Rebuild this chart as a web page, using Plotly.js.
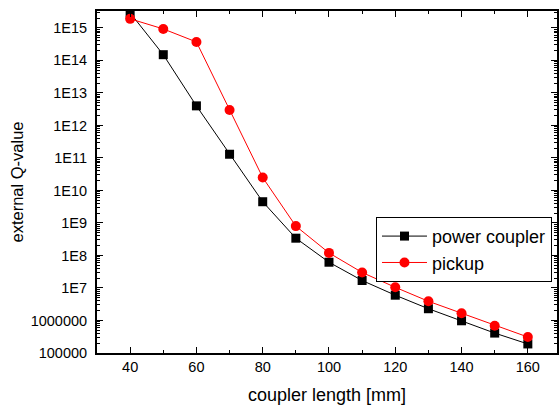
<!DOCTYPE html>
<html>
<head>
<meta charset="utf-8">
<script src="https://cdn.plot.ly/plotly-3.0.1.min.js"></script>
<style>html,body{margin:0;padding:0;background:#fff}#chart{width:559px;height:405px}</style>
</head>
<body>
<div id="chart"></div>
<script>
const couplerLength = [40, 50, 60, 70, 80, 90, 100, 110, 120, 130, 140, 150, 160];
const powerCoupler = [2.9e15, 1.5e14, 4.0e12, 1.3e11, 4.5e9, 3.4e8, 6.2e7, 1.7e7, 6.0e6, 2.3e6, 9.8e5, 4.1e5, 1.9e5];
const pickup = [1.9e15, 9.3e14, 3.7e14, 3.0e12, 2.5e10, 8.0e8, 1.2e8, 3.0e7, 1.05e7, 3.9e6, 1.66e6, 6.9e5, 3.1e5];
const yTickVals = [1e5, 1e6, 1e7, 1e8, 1e9, 1e10, 1e11, 1e12, 1e13, 1e14, 1e15];
const yTickText = ["100000", "1000000", "1E7", "1E8", "1E9", "1E10", "1E11", "1E12", "1E13", "1E14", "1E15"];
const xTickVals = [40, 60, 80, 100, 120, 140, 160];

const font = {family: "Liberation Sans, Arial, sans-serif", color: "#000"};

const traces = [
  {x: couplerLength, y: powerCoupler, name: "power coupler", type: "scatter", mode: "lines+markers",
   line: {color: "#000", width: 1}, marker: {symbol: "square", size: 9, color: "#000"}, cliponaxis: true},
  {x: couplerLength, y: pickup, name: "pickup", type: "scatter", mode: "lines+markers",
   line: {color: "#ff0000", width: 1}, marker: {symbol: "circle", size: 10, color: "#ff0000"}, cliponaxis: true}
];

const layout = {
  width: 559, height: 405,
  margin: {l: 97, r: 2, t: 11, b: 52},
  paper_bgcolor: "#fff", plot_bgcolor: "#fff",
  font: Object.assign({size: 14.5}, font),
  showlegend: true,
  legend: {x: 0.6065, y: 0.398, xanchor: "left", yanchor: "top", bordercolor: "#000", borderwidth: 1,
           bgcolor: "#fff", font: Object.assign({size: 18}, font), tracegroupgap: 0, itemwidth: 45},
  xaxis: {
    range: [30, 168.8], tickvals: xTickVals, ticks: "inside", ticklen: 6, tickwidth: 1, tickcolor: "#000",
    showline: true, linecolor: "#000", linewidth: 2, mirror: "ticks", showgrid: false, zeroline: false,
    tickfont: Object.assign({size: 14.5}, font),
    minor: {dtick: 10, tick0: 0, ticks: "inside", ticklen: 3, tickcolor: "#000", showgrid: false},
    title: {text: "coupler length [mm]", font: Object.assign({size: 18}, font), standoff: 15}
  },
  yaxis: {
    type: "log", range: [5, 15.52], tickvals: yTickVals, ticktext: yTickText,
    ticks: "inside", ticklen: 6, tickwidth: 1, tickcolor: "#000", ticklabelstandoff: 5,
    showline: true, linecolor: "#000", linewidth: 2, mirror: "ticks", showgrid: false, zeroline: false,
    tickfont: Object.assign({size: 14.5}, font),
    minor: {dtick: "D1", ticks: "inside", ticklen: 3, tickcolor: "#000", showgrid: false},
    title: {text: "external Q-value", font: Object.assign({size: 16.5}, font), standoff: 3}
  }
};

Plotly.newPlot("chart", traces, layout, {displayModeBar: false, staticPlot: true});
</script>
</body>
</html>
